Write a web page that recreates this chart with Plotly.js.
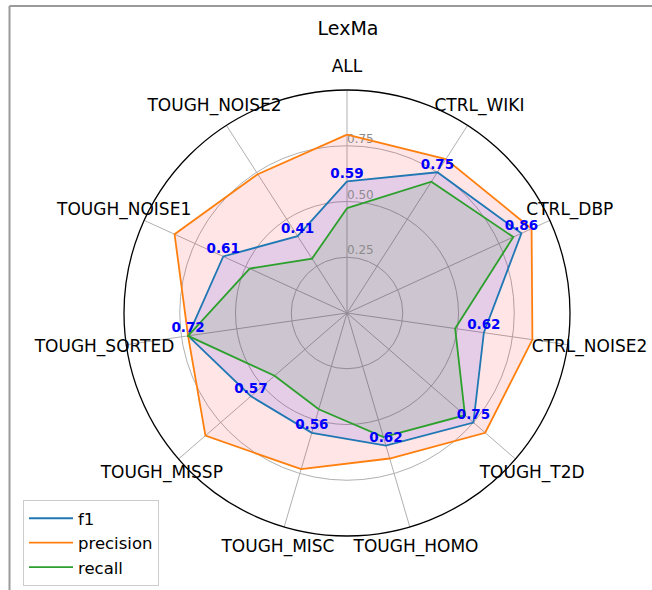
<!DOCTYPE html>
<html>
<head>
<meta charset="utf-8">
<script src="https://cdn.plot.ly/plotly-3.0.1.min.js"></script>
<style>html,body{margin:0;padding:0;background:#fff;}#chart{width:652px;height:590px;}</style>
</head>
<body>
<div id="chart"></div>
<script>
const categories = ["ALL", "CTRL_WIKI", "CTRL_DBP", "CTRL_NOISE2", "TOUGH_T2D", "TOUGH_HOMO",
  "TOUGH_MISC", "TOUGH_MISSP", "TOUGH_SORTED", "TOUGH_NOISE1", "TOUGH_NOISE2"];
const f1 = [0.59, 0.75, 0.86, 0.62, 0.75, 0.62, 0.56, 0.57, 0.72, 0.61, 0.41];
const precision = [0.80, 0.82, 0.91, 0.84, 0.82, 0.68, 0.73, 0.84, 0.72, 0.85, 0.74];
const recall = [0.47, 0.70, 0.82, 0.49, 0.70, 0.58, 0.45, 0.43, 0.72, 0.48, 0.29];
const radialTicks = [0.25, 0.50, 0.75];
const radialTickText = ["0.25", "0.50", "0.75"];

const FONT = "DejaVu Sans, Verdana, sans-serif";
const close = a => a.concat([a[0]]);
const thetaC = close(categories);

const series = [
  {name: "f1", values: f1, line: "#1f77b4", fill: "rgba(0,0,255,0.1)"},
  {name: "precision", values: precision, line: "#ff7f0e", fill: "rgba(255,0,0,0.1)"},
  {name: "recall", values: recall, line: "#2ca02c", fill: "rgba(0,128,0,0.1)"}
];

const data = [];
// fills
[series[1], series[0], series[2]].forEach(s => {
  data.push({type: "scatterpolar", r: close(s.values), theta: thetaC, mode: "lines",
    fill: "toself", fillcolor: s.fill, line: {width: 0, color: s.fill},
    showlegend: false, hoverinfo: "skip"});
});
// radial tick labels (placed at the ticks on the first spoke)
data.push({type: "scatterpolar", r: radialTicks, theta: radialTicks.map(() => categories[0]),
  mode: "text", text: radialTickText, textposition: "top right",
  textfont: {family: FONT, size: 12, color: "#8c8c8c"},
  showlegend: false, hoverinfo: "skip", cliponaxis: false});
// lines
series.forEach(s => {
  data.push({type: "scatterpolar", r: close(s.values), theta: thetaC, mode: "lines",
    name: s.name, line: {color: s.line, width: 1.8}});
});
// f1 value labels
data.push({type: "scatterpolar", r: f1, theta: categories, mode: "text",
  text: f1.map(v => v.toFixed(2)), textposition: "top center",
  textfont: {family: "DejaVu Sans", size: 13.5, color: "#0000ff", weight: "bold"},
  showlegend: false, hoverinfo: "skip", cliponaxis: false});
// category labels on an outer, invisible polar frame
data.push({type: "scatterpolar", subplot: "polar2", r: categories.map(() => 1), theta: categories,
  mode: "text", text: categories, textposition: "middle center",
  textfont: {family: FONT, size: 17, color: "#000"},
  showlegend: false, hoverinfo: "skip", cliponaxis: false});

const cx = 347, cyTop = 313, R = 223, RL = 245 * 1.05;
const cyB = 590 - cyTop;

const layout = {
  width: 652, height: 590,
  margin: {l: 0, r: 0, t: 0, b: 0},
  paper_bgcolor: "#fff",
  font: {family: FONT, color: "#000"},
  title: {text: "LexMa", font: {family: FONT, size: 19, color: "#000"},
    x: 348/652, xref: "container", xanchor: "center",
    y: 1 - 28/590, yref: "container", yanchor: "middle"},
  polar: {
    domain: {x: [(cx - R)/652, (cx + R)/652], y: [(cyB - R)/590, (cyB + R)/590]},
    bgcolor: "#fff",
    angularaxis: {type: "category", direction: "clockwise", rotation: 90,
      showticklabels: false, ticks: "", gridcolor: "#b0b0b0", gridwidth: 1,
      linecolor: "#000", linewidth: 1.3, showline: true},
    radialaxis: {range: [0, 1], tickvals: radialTicks, showticklabels: false,
      angle: 90, showline: false, ticks: "",
      gridcolor: "#b0b0b0", gridwidth: 1}
  },
  polar2: {
    domain: {x: [(cx - RL)/652, (cx + RL)/652], y: [(cyB - RL)/590, (cyB + RL)/590]},
    bgcolor: "rgba(0,0,0,0)",
    angularaxis: {type: "category", direction: "clockwise", rotation: 90,
      showticklabels: false, ticks: "", showgrid: false, showline: false},
    radialaxis: {range: [0, 1.05], visible: false, showgrid: false, showline: false,
      showticklabels: false, ticks: ""}
  },
  legend: {x: 23/652, y: 1 - 500/590, xanchor: "left", yanchor: "top",
    bgcolor: "#fff", bordercolor: "#cccccc", borderwidth: 1, itemwidth: 44,
    font: {family: FONT, size: 16.5, color: "#000"}},
  shapes: [
    {type: "line", xref: "paper", yref: "paper", x0: 9.5/652, x1: 1, y0: 1 - 6/590, y1: 1 - 6/590,
      line: {color: "#9a9a9a", width: 2}},
    {type: "line", xref: "paper", yref: "paper", x0: 9.5/652, x1: 9.5/652, y0: 0, y1: 1 - 6/590,
      line: {color: "#9a9a9a", width: 2}}
  ]
};

Plotly.newPlot("chart", data, layout, {displayModeBar: false, staticPlot: true});
</script>
</body>
</html>
